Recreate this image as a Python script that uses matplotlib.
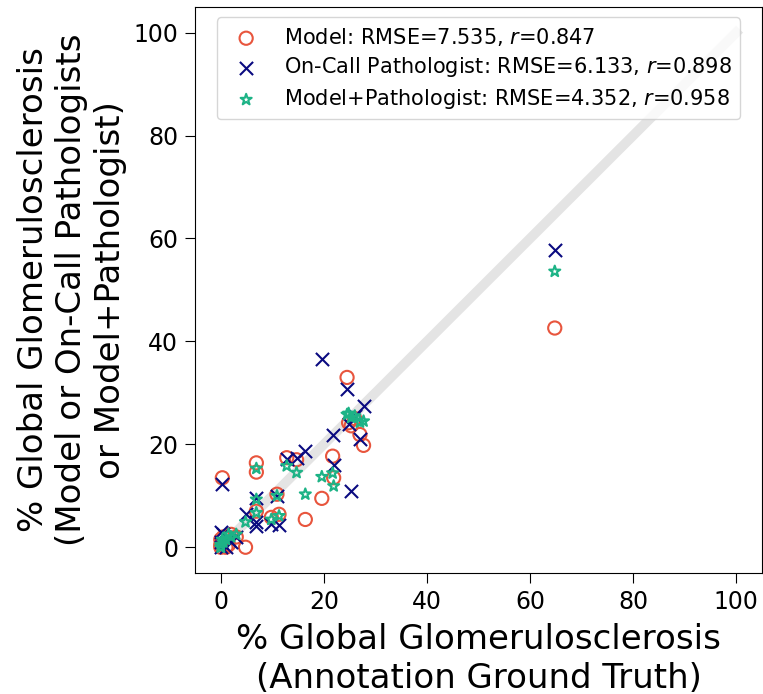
import matplotlib
matplotlib.use("Agg")
import matplotlib.pyplot as plt

# ground truth % global glomerulosclerosis and the three estimates
truth = [64.8, 19.6, 24.5, 27.7, 25.3, 27.0, 24.8, 26.0, 21.7, 21.9,
         16.4, 14.7, 12.8, 6.9, 6.9, 0.3, 10.9, 11.3, 9.8, 6.9,
         4.8, 2.0, 0.0, 0.5, 1.5, 3.0, 0.0, 1.0, 0.0]
model = [42.6, 9.5, 33.0, 19.8, 23.6, 21.9, 24.2, 25.0, 17.7, 13.5,
         5.4, 17.0, 17.4, 16.4, 14.6, 13.5, 10.3, 6.4, 5.8, 7.0,
         0.0, 2.5, 0.0, 2.0, 0.5, 2.0, 1.5, 0.0, 0.5]
pathologist = [57.8, 36.6, 30.7, 27.4, 10.9, 21.0, 23.9, 25.5, 21.8, 15.9,
               18.7, 17.4, 17.1, 9.6, 4.1, 12.2, 9.9, 4.3, 4.5, 4.9,
               6.4, 1.0, 0.0, 2.5, 1.5, 2.0, 3.0, 0.0, 1.0]
model_path = [53.6, 13.7, 25.8, 24.5, 25.2, 24.3, 26.0, 25.5, 14.4, 11.9,
              10.3, 14.5, 15.8, 15.3, 9.3, 1.5, 10.0, 6.1, 5.4, 6.7,
              4.9, 2.0, 0.0, 1.0, 2.5, 2.5, 0.5, 1.5, 0.0]

labels = ["Model: RMSE=7.535, $r$=0.847",
          "On-Call Pathologist: RMSE=6.133, $r$=0.898",
          "Model+Pathologist: RMSE=4.352, $r$=0.958"]

fig = plt.figure(figsize=(7.63, 6.94), dpi=100)
ax = fig.add_axes([0.2556, 0.1744, 0.743, 0.8156])

ax.plot([0, 100], [0, 100], color="#e4e4e4", lw=7, zorder=1)

ax.scatter(truth, model, s=90, marker="o", facecolors="none",
           edgecolors="#E8553D", linewidths=1.5, label=labels[0], zorder=3)
ax.scatter(truth, pathologist, s=90, marker="x", color="#0A0A80",
           linewidths=1.5, label=labels[1], zorder=3)
ax.scatter(truth, model_path, s=70, marker="*", facecolors="none",
           edgecolors="#1DB386", linewidths=1.5, label=labels[2], zorder=3)

ax.set_xlim(-5, 105)
ax.set_ylim(-5, 105)
ax.set_xticks([0, 20, 40, 60, 80, 100])
ax.set_yticks([0, 20, 40, 60, 80, 100])
ax.tick_params(labelsize=17, length=7, pad=5)

ax.set_xlabel("% Global Glomerulosclerosis\n(Annotation Ground Truth)",
              fontsize=24.5, labelpad=7)
ax.set_ylabel("% Global Glomerulosclerosis\n(Model or On-Call Pathologists\nor Model+Pathologist)",
              fontsize=24.5, labelpad=5)

ax.legend(loc="upper center", fontsize=15, labelspacing=0.37)

fig.savefig("out.png", dpi=100)
